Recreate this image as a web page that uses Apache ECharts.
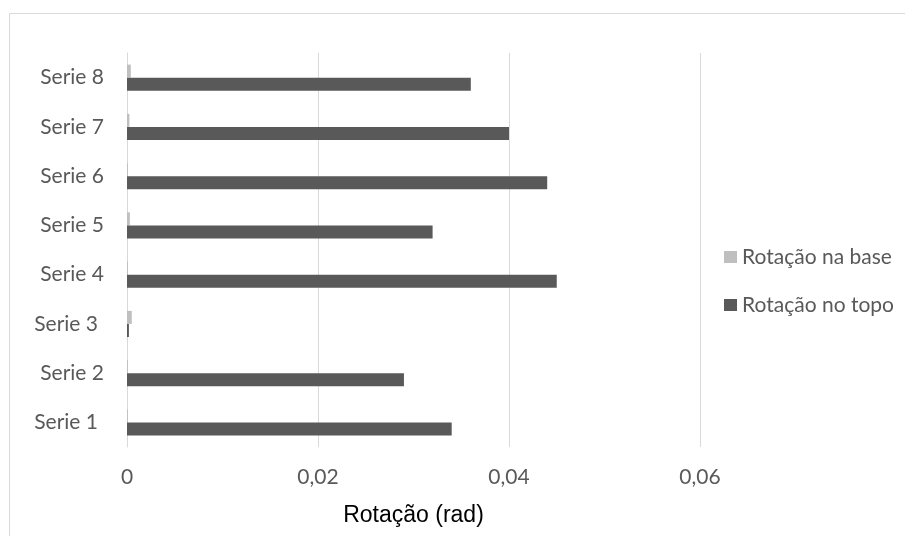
<!DOCTYPE html>
<html>
<head>
<meta charset="utf-8">
<script src="https://cdn.jsdelivr.net/npm/echarts@6/dist/echarts.min.js"></script>
<style>
  html, body { margin: 0; padding: 0; background: #fff; }
  #chart { width: 905px; height: 536px; }
</style>
</head>
<body>
<div id="chart"></div>
<script>
const categories = ['Serie 1', 'Serie 2', 'Serie 3', 'Serie 4', 'Serie 5', 'Serie 6', 'Serie 7', 'Serie 8'];
const rotacaoBase = [0.0001, 0.0001, 0.0005, 0.0001, 0.0003, 0.0001, 0.00025, 0.0004];
const rotacaoTopo = [0.034, 0.029, 0.0002, 0.045, 0.032, 0.044, 0.040, 0.036];
const xTicks = { min: 0, max: 0.06, interval: 0.02 };
const shiftedLabels = ['Serie 1', 'Serie 3'];

const chart = echarts.init(document.getElementById('chart'), null, { renderer: 'canvas' });
const labelFont = 'Lato, "Open Sans", sans-serif';

chart.setOption({
  animation: false,
  backgroundColor: '#ffffff',
  graphic: [{
    type: 'rect',
    shape: { x: 9.5, y: 13.5, width: 1200, height: 1200 },
    style: { fill: 'none', stroke: '#d9d9d9', lineWidth: 1 },
    silent: true
  }],
  grid: { left: 127, right: 205, top: 53, bottom: 89, containLabel: false },
  legend: {
    orient: 'vertical',
    left: 719,
    top: 241,
    itemWidth: 13,
    itemHeight: 12,
    itemGap: 26,
    data: ['Rotação na base', 'Rotação no topo'],
    textStyle: { fontFamily: labelFont, fontSize: 21, color: '#595959', lineHeight: 22 },
    icon: 'rect'
  },
  xAxis: {
    type: 'value',
    min: xTicks.min,
    max: xTicks.max,
    interval: xTicks.interval,
    axisLine: { show: false },
    axisTick: { show: false },
    splitLine: { show: true, lineStyle: { color: '#d9d9d9', width: 1 } },
    axisLabel: {
      margin: 20,
      fontFamily: labelFont,
      fontSize: 21,
      color: '#595959',
      formatter: v => (v === 0 ? '0' : v.toFixed(2).replace('.', ','))
    },
    name: 'Rotação (rad)',
    nameLocation: 'middle',
    nameGap: 57,
    nameTextStyle: { fontFamily: '"Liberation Sans Narrow", "Liberation Sans", sans-serif', fontSize: 23, color: '#000000' }
  },
  yAxis: {
    type: 'category',
    data: categories,
    axisLine: { show: true, lineStyle: { color: '#d9d9d9', width: 1 } },
    axisTick: { show: false },
    splitLine: { show: false },
    axisLabel: {
      margin: 23,
      fontFamily: labelFont,
      fontSize: 21,
      color: '#595959',
      formatter: v => (shiftedLabels.includes(v) ? '{s|' + v + '}' : '{n|' + v + '}'),
      rich: {
        n: { fontFamily: labelFont, fontSize: 21, color: '#595959' },
        s: { fontFamily: labelFont, fontSize: 21, color: '#595959', padding: [0, 6, 0, 0] }
      }
    }
  },
  series: [
    {
      name: 'Rotação na base',
      type: 'bar',
      data: rotacaoBase,
      barWidth: 13,
      barGap: '0%',
      itemStyle: { color: '#bfbfbf' }
    },
    {
      name: 'Rotação no topo',
      type: 'bar',
      data: rotacaoTopo,
      barWidth: 13,
      barGap: '0%',
      itemStyle: { color: '#595959' }
    }
  ]
});
</script>
</body>
</html>
